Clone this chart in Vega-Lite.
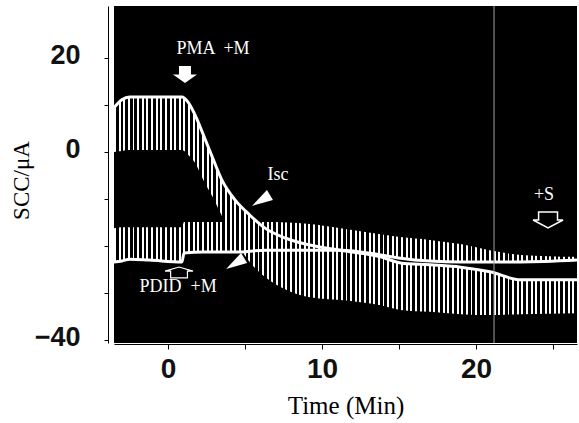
{
 "$schema": "https://vega.github.io/schema/vega-lite/v6.json",
 "width": 463, "height": 337,
 "autosize": {"type": "none"},
 "padding": {"left": 114, "top": 6, "right": 2, "bottom": 80},
 "background": "white",
 "config": {"view": {"fill": "#000", "stroke": null}, "axis": {"grid": false}},
 "datasets": {
  "curves": [
   {"series":"Isc","t":-3.51,"mean":9.4,"bound":0.0},
   {"series":"Isc","t":-3.0,"mean":11.1,"bound":0.2},
   {"series":"Isc","t":-2.5,"mean":11.7,"bound":0.4},
   {"series":"Isc","t":-1.2,"mean":11.7,"bound":0.4},
   {"series":"Isc","t":0.9,"mean":11.7,"bound":0.4},
   {"series":"Isc","t":1.3,"mean":10.6,"bound":-0.6},
   {"series":"Isc","t":1.75,"mean":7.9,"bound":-2.3},
   {"series":"Isc","t":2.3,"mean":3.6,"bound":-6.0},
   {"series":"Isc","t":2.9,"mean":-1.3,"bound":-9.6},
   {"series":"Isc","t":3.5,"mean":-6.0,"bound":-13.6},
   {"series":"Isc","t":4.35,"mean":-10.2,"bound":-18.7},
   {"series":"Isc","t":5.3,"mean":-13.4,"bound":-23.4},
   {"series":"Isc","t":6.3,"mean":-16.2,"bound":-26.6},
   {"series":"Isc","t":7.6,"mean":-18.3,"bound":-29.2},
   {"series":"Isc","t":9.2,"mean":-19.8,"bound":-30.9},
   {"series":"Isc","t":11.2,"mean":-20.9,"bound":-31.5},
   {"series":"Isc","t":13.8,"mean":-22.3,"bound":-32.6},
   {"series":"Isc","t":15.1,"mean":-23.6,"bound":-33.6},
   {"series":"Isc","t":17.0,"mean":-24.0,"bound":-34.0},
   {"series":"Isc","t":19.0,"mean":-24.5,"bound":-34.5},
   {"series":"Isc","t":20.9,"mean":-25.5,"bound":-34.7},
   {"series":"Isc","t":22.9,"mean":-27.2,"bound":-34.5},
   {"series":"Isc","t":26.56,"mean":-27.2,"bound":-34.3},
   {"series":"PDID","t":-3.51,"mean":-23.4,"bound":-16.2},
   {"series":"PDID","t":-3.0,"mean":-23.2,"bound":-16.0},
   {"series":"PDID","t":-2.5,"mean":-22.8,"bound":-16.0},
   {"series":"PDID","t":-1.2,"mean":-23.0,"bound":-16.0},
   {"series":"PDID","t":0.9,"mean":-23.4,"bound":-16.0},
   {"series":"PDID","t":1.04,"mean":-21.5,"bound":-14.9},
   {"series":"PDID","t":2.3,"mean":-21.3,"bound":-14.9},
   {"series":"PDID","t":4.35,"mean":-21.3,"bound":-14.9},
   {"series":"PDID","t":6.3,"mean":-20.9,"bound":-14.9},
   {"series":"PDID","t":9.2,"mean":-20.9,"bound":-15.3},
   {"series":"PDID","t":11.2,"mean":-20.9,"bound":-16.2},
   {"series":"PDID","t":13.8,"mean":-21.9,"bound":-17.5},
   {"series":"PDID","t":15.1,"mean":-22.6,"bound":-18.1},
   {"series":"PDID","t":17.0,"mean":-23.2,"bound":-18.7},
   {"series":"PDID","t":19.0,"mean":-23.4,"bound":-19.6},
   {"series":"PDID","t":20.9,"mean":-23.4,"bound":-20.9},
   {"series":"PDID","t":22.9,"mean":-23.4,"bound":-21.9},
   {"series":"PDID","t":26.56,"mean":-23.0,"bound":-22.3}
  ],
  "notes": [
   {"t":2.92,"v":21.9,"text":"PMA \u00a0+M"},
   {"t":7.14,"v":-4.9,"text":"Isc"},
   {"t":24.42,"v":-9.15,"text":"+S"},
   {"t":0.65,"v":-28.7,"text":"PDID \u00a0+M"}
  ],
  "symbols": [
   {"name":"pma","t":1.10,"v":16.5},
   {"name":"s","t":24.68,"v":-14.47},
   {"name":"pdid","t":0.714,"v":-25.64},
   {"name":"head","t":6.23,"v":-10.0},
   {"name":"head","t":4.55,"v":-23.4}
  ],
  "events": [{"t":21.17}]
 },
 "layer": [
  {
   "data": {"name": "curves"},
   "mark": {"type": "area", "interpolate": "monotone",
    "fill": {"gradient": "linear", "x1": 0, "y1": 0, "x2": 1, "y2": 0, "stops": [
{"offset":0,"color":"#fff"},{"offset":0.0042,"color":"#fff"},{"offset":0.0042,"color":"#000"},{"offset":0.01,"color":"#000"},
{"offset":0.01,"color":"#fff"},{"offset":0.0142,"color":"#fff"},{"offset":0.0142,"color":"#000"},{"offset":0.02,"color":"#000"},
{"offset":0.02,"color":"#fff"},{"offset":0.0242,"color":"#fff"},{"offset":0.0242,"color":"#000"},{"offset":0.03,"color":"#000"},
{"offset":0.03,"color":"#fff"},{"offset":0.0342,"color":"#fff"},{"offset":0.0342,"color":"#000"},{"offset":0.04,"color":"#000"},
{"offset":0.04,"color":"#fff"},{"offset":0.0442,"color":"#fff"},{"offset":0.0442,"color":"#000"},{"offset":0.05,"color":"#000"},
{"offset":0.05,"color":"#fff"},{"offset":0.0542,"color":"#fff"},{"offset":0.0542,"color":"#000"},{"offset":0.06,"color":"#000"},
{"offset":0.06,"color":"#fff"},{"offset":0.0642,"color":"#fff"},{"offset":0.0642,"color":"#000"},{"offset":0.07,"color":"#000"},
{"offset":0.07,"color":"#fff"},{"offset":0.0742,"color":"#fff"},{"offset":0.0742,"color":"#000"},{"offset":0.08,"color":"#000"},
{"offset":0.08,"color":"#fff"},{"offset":0.0842,"color":"#fff"},{"offset":0.0842,"color":"#000"},{"offset":0.09,"color":"#000"},
{"offset":0.09,"color":"#fff"},{"offset":0.0942,"color":"#fff"},{"offset":0.0942,"color":"#000"},{"offset":0.10,"color":"#000"},
{"offset":0.10,"color":"#fff"},{"offset":0.1042,"color":"#fff"},{"offset":0.1042,"color":"#000"},{"offset":0.11,"color":"#000"},
{"offset":0.11,"color":"#fff"},{"offset":0.1142,"color":"#fff"},{"offset":0.1142,"color":"#000"},{"offset":0.12,"color":"#000"},
{"offset":0.12,"color":"#fff"},{"offset":0.1242,"color":"#fff"},{"offset":0.1242,"color":"#000"},{"offset":0.13,"color":"#000"},
{"offset":0.13,"color":"#fff"},{"offset":0.1342,"color":"#fff"},{"offset":0.1342,"color":"#000"},{"offset":0.14,"color":"#000"},
{"offset":0.14,"color":"#fff"},{"offset":0.1442,"color":"#fff"},{"offset":0.1442,"color":"#000"},{"offset":0.15,"color":"#000"},
{"offset":0.15,"color":"#fff"},{"offset":0.1542,"color":"#fff"},{"offset":0.1542,"color":"#000"},{"offset":0.16,"color":"#000"},
{"offset":0.16,"color":"#fff"},{"offset":0.1642,"color":"#fff"},{"offset":0.1642,"color":"#000"},{"offset":0.17,"color":"#000"},
{"offset":0.17,"color":"#fff"},{"offset":0.1742,"color":"#fff"},{"offset":0.1742,"color":"#000"},{"offset":0.18,"color":"#000"},
{"offset":0.18,"color":"#fff"},{"offset":0.1842,"color":"#fff"},{"offset":0.1842,"color":"#000"},{"offset":0.19,"color":"#000"},
{"offset":0.19,"color":"#fff"},{"offset":0.1942,"color":"#fff"},{"offset":0.1942,"color":"#000"},{"offset":0.20,"color":"#000"},
{"offset":0.20,"color":"#fff"},{"offset":0.2042,"color":"#fff"},{"offset":0.2042,"color":"#000"},{"offset":0.21,"color":"#000"},
{"offset":0.21,"color":"#fff"},{"offset":0.2142,"color":"#fff"},{"offset":0.2142,"color":"#000"},{"offset":0.22,"color":"#000"},
{"offset":0.22,"color":"#fff"},{"offset":0.2242,"color":"#fff"},{"offset":0.2242,"color":"#000"},{"offset":0.23,"color":"#000"},
{"offset":0.23,"color":"#fff"},{"offset":0.2342,"color":"#fff"},{"offset":0.2342,"color":"#000"},{"offset":0.24,"color":"#000"},
{"offset":0.24,"color":"#fff"},{"offset":0.2442,"color":"#fff"},{"offset":0.2442,"color":"#000"},{"offset":0.25,"color":"#000"},
{"offset":0.25,"color":"#fff"},{"offset":0.2542,"color":"#fff"},{"offset":0.2542,"color":"#000"},{"offset":0.26,"color":"#000"},
{"offset":0.26,"color":"#fff"},{"offset":0.2642,"color":"#fff"},{"offset":0.2642,"color":"#000"},{"offset":0.27,"color":"#000"},
{"offset":0.27,"color":"#fff"},{"offset":0.2742,"color":"#fff"},{"offset":0.2742,"color":"#000"},{"offset":0.28,"color":"#000"},
{"offset":0.28,"color":"#fff"},{"offset":0.2842,"color":"#fff"},{"offset":0.2842,"color":"#000"},{"offset":0.29,"color":"#000"},
{"offset":0.29,"color":"#fff"},{"offset":0.2942,"color":"#fff"},{"offset":0.2942,"color":"#000"},{"offset":0.30,"color":"#000"},
{"offset":0.30,"color":"#fff"},{"offset":0.3042,"color":"#fff"},{"offset":0.3042,"color":"#000"},{"offset":0.31,"color":"#000"},
{"offset":0.31,"color":"#fff"},{"offset":0.3142,"color":"#fff"},{"offset":0.3142,"color":"#000"},{"offset":0.32,"color":"#000"},
{"offset":0.32,"color":"#fff"},{"offset":0.3242,"color":"#fff"},{"offset":0.3242,"color":"#000"},{"offset":0.33,"color":"#000"},
{"offset":0.33,"color":"#fff"},{"offset":0.3342,"color":"#fff"},{"offset":0.3342,"color":"#000"},{"offset":0.34,"color":"#000"},
{"offset":0.34,"color":"#fff"},{"offset":0.3442,"color":"#fff"},{"offset":0.3442,"color":"#000"},{"offset":0.35,"color":"#000"},
{"offset":0.35,"color":"#fff"},{"offset":0.3542,"color":"#fff"},{"offset":0.3542,"color":"#000"},{"offset":0.36,"color":"#000"},
{"offset":0.36,"color":"#fff"},{"offset":0.3642,"color":"#fff"},{"offset":0.3642,"color":"#000"},{"offset":0.37,"color":"#000"},
{"offset":0.37,"color":"#fff"},{"offset":0.3742,"color":"#fff"},{"offset":0.3742,"color":"#000"},{"offset":0.38,"color":"#000"},
{"offset":0.38,"color":"#fff"},{"offset":0.3842,"color":"#fff"},{"offset":0.3842,"color":"#000"},{"offset":0.39,"color":"#000"},
{"offset":0.39,"color":"#fff"},{"offset":0.3942,"color":"#fff"},{"offset":0.3942,"color":"#000"},{"offset":0.40,"color":"#000"},
{"offset":0.40,"color":"#fff"},{"offset":0.4042,"color":"#fff"},{"offset":0.4042,"color":"#000"},{"offset":0.41,"color":"#000"},
{"offset":0.41,"color":"#fff"},{"offset":0.4142,"color":"#fff"},{"offset":0.4142,"color":"#000"},{"offset":0.42,"color":"#000"},
{"offset":0.42,"color":"#fff"},{"offset":0.4242,"color":"#fff"},{"offset":0.4242,"color":"#000"},{"offset":0.43,"color":"#000"},
{"offset":0.43,"color":"#fff"},{"offset":0.4342,"color":"#fff"},{"offset":0.4342,"color":"#000"},{"offset":0.44,"color":"#000"},
{"offset":0.44,"color":"#fff"},{"offset":0.4442,"color":"#fff"},{"offset":0.4442,"color":"#000"},{"offset":0.45,"color":"#000"},
{"offset":0.45,"color":"#fff"},{"offset":0.4542,"color":"#fff"},{"offset":0.4542,"color":"#000"},{"offset":0.46,"color":"#000"},
{"offset":0.46,"color":"#fff"},{"offset":0.4642,"color":"#fff"},{"offset":0.4642,"color":"#000"},{"offset":0.47,"color":"#000"},
{"offset":0.47,"color":"#fff"},{"offset":0.4742,"color":"#fff"},{"offset":0.4742,"color":"#000"},{"offset":0.48,"color":"#000"},
{"offset":0.48,"color":"#fff"},{"offset":0.4842,"color":"#fff"},{"offset":0.4842,"color":"#000"},{"offset":0.49,"color":"#000"},
{"offset":0.49,"color":"#fff"},{"offset":0.4942,"color":"#fff"},{"offset":0.4942,"color":"#000"},{"offset":0.50,"color":"#000"},
{"offset":0.50,"color":"#fff"},{"offset":0.5042,"color":"#fff"},{"offset":0.5042,"color":"#000"},{"offset":0.51,"color":"#000"},
{"offset":0.51,"color":"#fff"},{"offset":0.5142,"color":"#fff"},{"offset":0.5142,"color":"#000"},{"offset":0.52,"color":"#000"},
{"offset":0.52,"color":"#fff"},{"offset":0.5242,"color":"#fff"},{"offset":0.5242,"color":"#000"},{"offset":0.53,"color":"#000"},
{"offset":0.53,"color":"#fff"},{"offset":0.5342,"color":"#fff"},{"offset":0.5342,"color":"#000"},{"offset":0.54,"color":"#000"},
{"offset":0.54,"color":"#fff"},{"offset":0.5442,"color":"#fff"},{"offset":0.5442,"color":"#000"},{"offset":0.55,"color":"#000"},
{"offset":0.55,"color":"#fff"},{"offset":0.5542,"color":"#fff"},{"offset":0.5542,"color":"#000"},{"offset":0.56,"color":"#000"},
{"offset":0.56,"color":"#fff"},{"offset":0.5642,"color":"#fff"},{"offset":0.5642,"color":"#000"},{"offset":0.57,"color":"#000"},
{"offset":0.57,"color":"#fff"},{"offset":0.5742,"color":"#fff"},{"offset":0.5742,"color":"#000"},{"offset":0.58,"color":"#000"},
{"offset":0.58,"color":"#fff"},{"offset":0.5842,"color":"#fff"},{"offset":0.5842,"color":"#000"},{"offset":0.59,"color":"#000"},
{"offset":0.59,"color":"#fff"},{"offset":0.5942,"color":"#fff"},{"offset":0.5942,"color":"#000"},{"offset":0.60,"color":"#000"},
{"offset":0.60,"color":"#fff"},{"offset":0.6042,"color":"#fff"},{"offset":0.6042,"color":"#000"},{"offset":0.61,"color":"#000"},
{"offset":0.61,"color":"#fff"},{"offset":0.6142,"color":"#fff"},{"offset":0.6142,"color":"#000"},{"offset":0.62,"color":"#000"},
{"offset":0.62,"color":"#fff"},{"offset":0.6242,"color":"#fff"},{"offset":0.6242,"color":"#000"},{"offset":0.63,"color":"#000"},
{"offset":0.63,"color":"#fff"},{"offset":0.6342,"color":"#fff"},{"offset":0.6342,"color":"#000"},{"offset":0.64,"color":"#000"},
{"offset":0.64,"color":"#fff"},{"offset":0.6442,"color":"#fff"},{"offset":0.6442,"color":"#000"},{"offset":0.65,"color":"#000"},
{"offset":0.65,"color":"#fff"},{"offset":0.6542,"color":"#fff"},{"offset":0.6542,"color":"#000"},{"offset":0.66,"color":"#000"},
{"offset":0.66,"color":"#fff"},{"offset":0.6642,"color":"#fff"},{"offset":0.6642,"color":"#000"},{"offset":0.67,"color":"#000"},
{"offset":0.67,"color":"#fff"},{"offset":0.6742,"color":"#fff"},{"offset":0.6742,"color":"#000"},{"offset":0.68,"color":"#000"},
{"offset":0.68,"color":"#fff"},{"offset":0.6842,"color":"#fff"},{"offset":0.6842,"color":"#000"},{"offset":0.69,"color":"#000"},
{"offset":0.69,"color":"#fff"},{"offset":0.6942,"color":"#fff"},{"offset":0.6942,"color":"#000"},{"offset":0.70,"color":"#000"},
{"offset":0.70,"color":"#fff"},{"offset":0.7042,"color":"#fff"},{"offset":0.7042,"color":"#000"},{"offset":0.71,"color":"#000"},
{"offset":0.71,"color":"#fff"},{"offset":0.7142,"color":"#fff"},{"offset":0.7142,"color":"#000"},{"offset":0.72,"color":"#000"},
{"offset":0.72,"color":"#fff"},{"offset":0.7242,"color":"#fff"},{"offset":0.7242,"color":"#000"},{"offset":0.73,"color":"#000"},
{"offset":0.73,"color":"#fff"},{"offset":0.7342,"color":"#fff"},{"offset":0.7342,"color":"#000"},{"offset":0.74,"color":"#000"},
{"offset":0.74,"color":"#fff"},{"offset":0.7442,"color":"#fff"},{"offset":0.7442,"color":"#000"},{"offset":0.75,"color":"#000"},
{"offset":0.75,"color":"#fff"},{"offset":0.7542,"color":"#fff"},{"offset":0.7542,"color":"#000"},{"offset":0.76,"color":"#000"},
{"offset":0.76,"color":"#fff"},{"offset":0.7642,"color":"#fff"},{"offset":0.7642,"color":"#000"},{"offset":0.77,"color":"#000"},
{"offset":0.77,"color":"#fff"},{"offset":0.7742,"color":"#fff"},{"offset":0.7742,"color":"#000"},{"offset":0.78,"color":"#000"},
{"offset":0.78,"color":"#fff"},{"offset":0.7842,"color":"#fff"},{"offset":0.7842,"color":"#000"},{"offset":0.79,"color":"#000"},
{"offset":0.79,"color":"#fff"},{"offset":0.7942,"color":"#fff"},{"offset":0.7942,"color":"#000"},{"offset":0.80,"color":"#000"},
{"offset":0.80,"color":"#fff"},{"offset":0.8042,"color":"#fff"},{"offset":0.8042,"color":"#000"},{"offset":0.81,"color":"#000"},
{"offset":0.81,"color":"#fff"},{"offset":0.8142,"color":"#fff"},{"offset":0.8142,"color":"#000"},{"offset":0.82,"color":"#000"},
{"offset":0.82,"color":"#fff"},{"offset":0.8242,"color":"#fff"},{"offset":0.8242,"color":"#000"},{"offset":0.83,"color":"#000"},
{"offset":0.83,"color":"#fff"},{"offset":0.8342,"color":"#fff"},{"offset":0.8342,"color":"#000"},{"offset":0.84,"color":"#000"},
{"offset":0.84,"color":"#fff"},{"offset":0.8442,"color":"#fff"},{"offset":0.8442,"color":"#000"},{"offset":0.85,"color":"#000"},
{"offset":0.85,"color":"#fff"},{"offset":0.8542,"color":"#fff"},{"offset":0.8542,"color":"#000"},{"offset":0.86,"color":"#000"},
{"offset":0.86,"color":"#fff"},{"offset":0.8642,"color":"#fff"},{"offset":0.8642,"color":"#000"},{"offset":0.87,"color":"#000"},
{"offset":0.87,"color":"#fff"},{"offset":0.8742,"color":"#fff"},{"offset":0.8742,"color":"#000"},{"offset":0.88,"color":"#000"},
{"offset":0.88,"color":"#fff"},{"offset":0.8842,"color":"#fff"},{"offset":0.8842,"color":"#000"},{"offset":0.89,"color":"#000"},
{"offset":0.89,"color":"#fff"},{"offset":0.8942,"color":"#fff"},{"offset":0.8942,"color":"#000"},{"offset":0.90,"color":"#000"},
{"offset":0.90,"color":"#fff"},{"offset":0.9042,"color":"#fff"},{"offset":0.9042,"color":"#000"},{"offset":0.91,"color":"#000"},
{"offset":0.91,"color":"#fff"},{"offset":0.9142,"color":"#fff"},{"offset":0.9142,"color":"#000"},{"offset":0.92,"color":"#000"},
{"offset":0.92,"color":"#fff"},{"offset":0.9242,"color":"#fff"},{"offset":0.9242,"color":"#000"},{"offset":0.93,"color":"#000"},
{"offset":0.93,"color":"#fff"},{"offset":0.9342,"color":"#fff"},{"offset":0.9342,"color":"#000"},{"offset":0.94,"color":"#000"},
{"offset":0.94,"color":"#fff"},{"offset":0.9442,"color":"#fff"},{"offset":0.9442,"color":"#000"},{"offset":0.95,"color":"#000"},
{"offset":0.95,"color":"#fff"},{"offset":0.9542,"color":"#fff"},{"offset":0.9542,"color":"#000"},{"offset":0.96,"color":"#000"},
{"offset":0.96,"color":"#fff"},{"offset":0.9642,"color":"#fff"},{"offset":0.9642,"color":"#000"},{"offset":0.97,"color":"#000"},
{"offset":0.97,"color":"#fff"},{"offset":0.9742,"color":"#fff"},{"offset":0.9742,"color":"#000"},{"offset":0.98,"color":"#000"},
{"offset":0.98,"color":"#fff"},{"offset":0.9842,"color":"#fff"},{"offset":0.9842,"color":"#000"},{"offset":0.99,"color":"#000"},
{"offset":0.99,"color":"#fff"},{"offset":0.9942,"color":"#fff"},{"offset":0.9942,"color":"#000"},{"offset":1,"color":"#000"}
    ]}},
   "encoding": {
    "x": {"field": "t", "type": "quantitative",
     "scale": {"domain": [-3.51, 26.56], "nice": false, "zero": false},
     "axis": {"orient": "bottom", "offset": 1, "values": [0, 5, 10, 15, 20, 25],
      "labelExpr": "datum.value % 10 == 0 ? datum.label : ''",
      "domainColor": "#000", "tickColor": "#000", "tickSize": 5, "labelPadding": 6,
      "labelFont": "Liberation Sans", "labelFontSize": 28, "labelFontWeight": "bold", "labelColor": "#111",
      "title": "Time (Min)", "titleFont": "Liberation Serif", "titleFontSize": 25,
      "titleFontWeight": "normal", "titleColor": "#000", "titleY": 69, "titleBaseline": "alphabetic"}},
    "y": {"field": "mean", "type": "quantitative",
     "scale": {"domain": [-40.64, 31.06], "nice": false, "zero": false},
     "axis": {"orient": "left", "offset": 6, "values": [-40, -30, -20, -10, 0, 10, 20],
      "labelExpr": "datum.value == 20 || datum.value == 0 || datum.value == -40 ? datum.label : ''",
      "domainColor": "#000", "tickColor": "#000", "tickSize": 4, "labelPadding": 24, "labelOffset": -2,
      "labelFont": "Liberation Sans", "labelFontSize": 27, "labelFontWeight": "bold", "labelColor": "#111", "labelFlush": false,
      "title": "SCC/μA", "titleFont": "Liberation Serif", "titleFontSize": 23, "titleFontWeight": "normal",
      "titleColor": "#000", "titleAngle": -90, "titleX": -80, "titleY": 174,
      "titleAlign": "center", "titleBaseline": "alphabetic"}},
    "y2": {"field": "bound"},
    "detail": {"field": "series"}
   }
  },
  {
   "data": {"name": "curves"},
   "mark": {"type": "line", "interpolate": "monotone", "color": "#fff", "strokeWidth": 3},
   "encoding": {
    "x": {"field": "t", "type": "quantitative"},
    "y": {"field": "mean", "type": "quantitative"},
    "detail": {"field": "series"}
   }
  },
  {
   "data": {"name": "events"},
   "mark": {"type": "rule", "color": "#a0a0a0", "strokeWidth": 1},
   "encoding": {"x": {"field": "t", "type": "quantitative"}}
  },
  {
   "data": {"name": "notes"},
   "mark": {"type": "text", "color": "#fff", "font": "Liberation Serif", "fontSize": 18, "align": "center", "baseline": "middle"},
   "encoding": {
    "x": {"field": "t", "type": "quantitative"},
    "y": {"field": "v", "type": "quantitative"},
    "text": {"field": "text"}
   }
  },
  {
   "data": {"name": "symbols"},
   "transform": [{"filter": "datum.name == 'pma'"}],
   "mark": {"type": "point", "filled": true, "color": "#fff", "opacity": 1, "size": 576,
    "shape": "M-0.5,-0.71L0.5,-0.71L0.5,0L1,0L0,0.71L-1,0L-0.5,0Z"},
   "encoding": {"x": {"field": "t", "type": "quantitative"}, "y": {"field": "v", "type": "quantitative"}}
  },
  {
   "data": {"name": "symbols"},
   "transform": [{"filter": "datum.name == 's'"}],
   "mark": {"type": "point", "filled": false, "stroke": "#fff", "strokeWidth": 1.5, "opacity": 1, "size": 900,
    "shape": "M-0.63,-0.53L0.63,-0.53L0.63,0L1,0L0,0.53L-1,0L-0.63,0Z"},
   "encoding": {"x": {"field": "t", "type": "quantitative"}, "y": {"field": "v", "type": "quantitative"}}
  },
  {
   "data": {"name": "symbols"},
   "transform": [{"filter": "datum.name == 'pdid'"}],
   "mark": {"type": "point", "filled": false, "stroke": "#fff", "strokeWidth": 1.2, "opacity": 1, "size": 784,
    "shape": "M-0.6,0.39L-0.6,-0.1L-1,-0.1L0,-0.39L1,-0.1L0.6,-0.1L0.6,0.39Z"},
   "encoding": {"x": {"field": "t", "type": "quantitative"}, "y": {"field": "v", "type": "quantitative"}}
  },
  {
   "data": {"name": "symbols"},
   "transform": [{"filter": "datum.name == 'head'"}],
   "mark": {"type": "point", "filled": true, "color": "#fff", "opacity": 1, "size": 576,
    "shape": "M-1,0.58L0.25,-0.75L0.75,0.08Z"},
   "encoding": {"x": {"field": "t", "type": "quantitative"}, "y": {"field": "v", "type": "quantitative"}}
  }
 ]
}
